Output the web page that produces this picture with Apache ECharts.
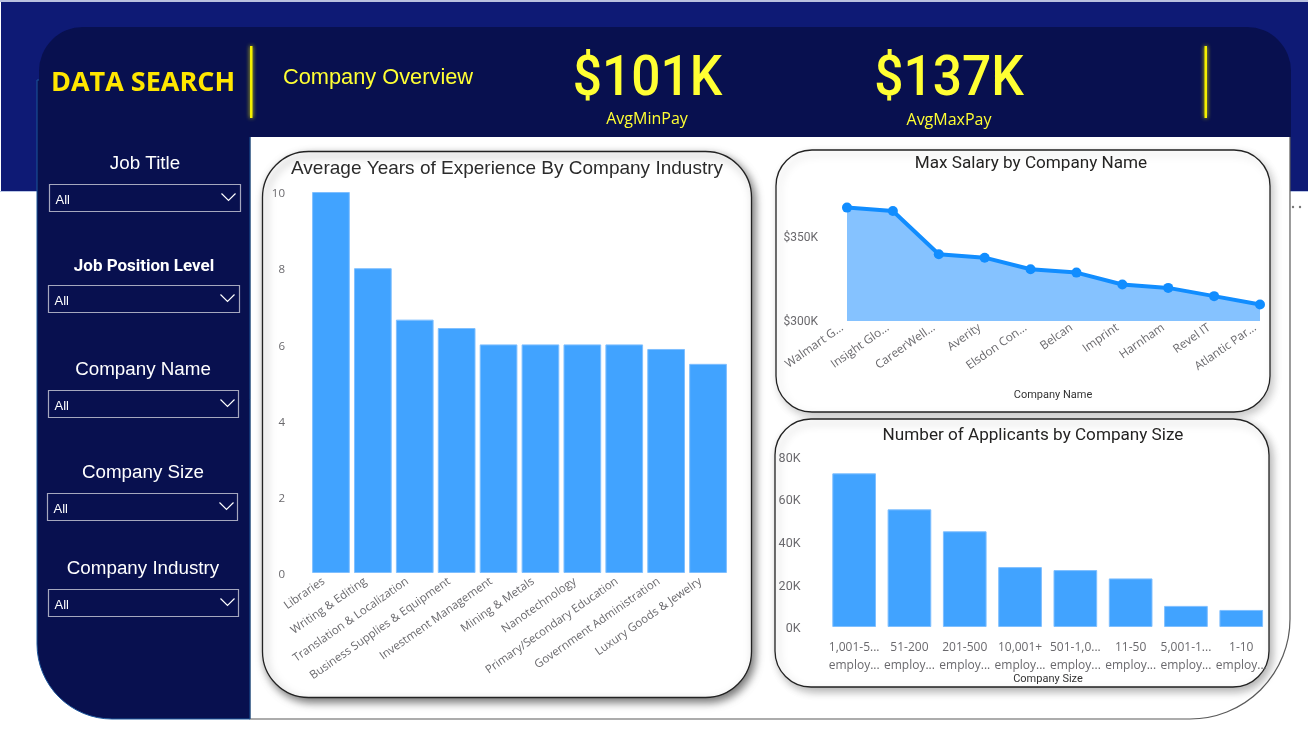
<!DOCTYPE html>
<html>
<head>
<meta charset="utf-8">
<style>html,body{margin:0;padding:0;background:#fff}#c{width:1308px;height:731px}</style>
<script src="https://cdn.jsdelivr.net/npm/echarts@6/dist/echarts.min.js"></script>
</head>
<body>
<div id="c"></div>
<script>
const industryNames = ['Libraries','Writing & Editing','Translation & Localization','Business Supplies & Equipment','Investment Management','Mining & Metals','Nanotechnology','Primary/Secondary Education','Government Administration','Luxury Goods & Jewelry'];
const industryYears = [10,8,6.65,6.43,6,6,6,6,5.88,5.49];
const companyNames = ['Walmart G...','Insight Glo...','CareerWell...','Averity','Elsdon Con...','Belcan','Imprint','Harnham','Revel IT','Atlantic Par...'];
const companyMaxSalaryK = [367.5,365.5,339.7,337.7,330.8,328.8,321.7,319.7,314.8,309.8];
const sizeNames = ['1,001-5...\nemploy...','51-200\nemploy...','201-500\nemploy...','10,001+\nemploy...','501-1,0...\nemploy...','11-50\nemploy...','5,001-1...\nemploy...','1-10\nemploy...'];
const sizeApplicantsK = [72.1,55.2,44.9,28.1,26.7,22.8,9.9,8.0];
const slicers = ['Job Title','Job Position Level','Company Name','Company Size','Company Industry'];
const kpis = [['$101K','AvgMinPay'],['$137K','AvgMaxPay']];

const BAND='#0E1A75', DARK='#08104F', YEL='#FFFF33', GREY='#6A696D', BAR='#41A3FF', BARB='#7FBFFF';
const SEG='"Open Sans","Noto Sans",sans-serif', ARIAL='"Liberation Sans",Arial,sans-serif', DIN='Roboto,sans-serif';

function txt(x,y,text,font,size,color,weight,align,sx){
  return {type:'text',x:x,y:y,scaleX:sx||1,silent:true,style:{text:text,fontFamily:font,fontSize:size,fill:color,fontWeight:weight||'normal',textAlign:align||'center',textVerticalAlign:'middle'}};
}
function rect(x,y,w,h,r,fill,extra){
  return {type:'rect',silent:true,shape:{x:x,y:y,width:w,height:h,r:r},style:Object.assign({fill:fill},extra||{})};
}
function card(x,y,w,h,r,sh){
  return rect(x,y,w,h,r,'#fff',{stroke:'#222',lineWidth:1.3,shadowColor:sh,shadowBlur:9,shadowOffsetX:3,shadowOffsetY:4});
}
const slicerBoxes=[
 {x:49.5,y:184.5,w:191,ty:164,tx:145,font:ARIAL,size:18.8,weight:'normal',sx:1},
 {x:48.5,y:285.5,w:191,ty:267,tx:144,font:DIN,size:16,weight:'bold',sx:1.06},
 {x:48.5,y:390.5,w:190,ty:370,tx:143,font:ARIAL,size:18.8,weight:'normal',sx:1},
 {x:47.5,y:493.5,w:190,ty:473,tx:143,font:ARIAL,size:18.8,weight:'normal',sx:1},
 {x:48.5,y:589.5,w:190,ty:569,tx:143,font:ARIAL,size:18.8,weight:'normal',sx:1}
];
const graphics=[
 rect(0,0,1308,2,0,'#B9C1DF'),
 rect(1,2,1307,189,0,BAND),
 rect(0,191,1308,1,0,'#B9C6E6'),
 {type:'circle',silent:true,shape:{cx:1293,cy:207,r:1.2},style:{fill:'#777'}},
 {type:'circle',silent:true,shape:{cx:1300,cy:207,r:1.2},style:{fill:'#777'}},
 rect(250,130,1040,589,[0,0,100,0],'#fff',{stroke:'#5a5a5a',lineWidth:1.2}),
 rect(37,80,213,639,[0,0,0,75],DARK,{stroke:'#1B569B',lineWidth:1}),
 rect(39,27,1252,110,[44,44,0,0],DARK),
 txt(143,83.5,'DATA SEARCH',SEG,27,'#FFE600','bold'),
 txt(378,78,'Company Overview',ARIAL,21.8,YEL),
 txt(647.5,81,kpis[0][0],DIN,56,YEL,'500','center',0.92),
 txt(949,81,kpis[1][0],DIN,56,YEL,'500','center',0.92),
 txt(647,119,kpis[0][1],SEG,16,YEL),
 txt(949,120,kpis[1][1],SEG,16,YEL),
 rect(250,46,2.5,72,0,'#F4F000',{shadowColor:'#E8E800',shadowBlur:4}),
 rect(1204.5,46,2.5,72,0,'#F4F000',{shadowColor:'#E8E800',shadowBlur:4}),
 card(262.5,151.5,489,546,46,'rgba(0,0,0,0.55)'),
 card(776,150,494,262,36,'rgba(0,0,0,0.22)'),
 card(775,419,494,268,36,'rgba(0,0,0,0.3)'),
 txt(507,169,'Average Years of Experience By Company Industry',ARIAL,19,'#2b2b2b'),
 txt(1031,164,'Max Salary by Company Name',DIN,16,'#252423','normal','center',1.07),
 txt(1033,436,'Number of Applicants by Company Size',DIN,16,'#252423','normal','center',1.07),
 txt(1053,395.5,'Company Name',DIN,10,'#333','normal','center',1.1),
 txt(1048,679,'Company Size',DIN,10,'#333','normal','center',1.1)
];
slicers.forEach(function(name,i){
  const b=slicerBoxes[i];
  graphics.push(txt(b.tx,b.ty,name,b.font,b.size,'#fff',b.weight,'center',b.sx));
  graphics.push(rect(b.x,b.y,b.w,27,0,'transparent',{stroke:'#A5A7BE',lineWidth:1.2}));
  graphics.push(txt(b.x+6,b.y+15.5,'All',ARIAL,13,'#fff','normal','left'));
  graphics.push({type:'polyline',silent:true,shape:{points:[[b.x+172,b.y+9],[b.x+179,b.y+16],[b.x+186,b.y+9]]},style:{fill:'none',stroke:'#fff',lineWidth:1.2}});
});

function catAxis(idx,data,rot,size,margin,lh,gap,pad){
  return {type:'category',gridIndex:idx,data:data,boundaryGap:gap,axisLine:{show:false},axisTick:{show:false},
    axisLabel:{interval:0,rotate:rot,fontFamily:SEG,fontSize:size,color:GREY,margin:margin,lineHeight:lh,padding:pad,hideOverlap:false}};
}
function valAxis(idx,min,max,interval,fmt,margin,font,size,lh){
  return {type:'value',gridIndex:idx,min:min,max:max,interval:interval,splitLine:{show:false},axisLine:{show:false},axisTick:{show:false},
    axisLabel:{formatter:fmt,margin:margin,color:GREY,fontFamily:font,fontSize:size,verticalAlign:'top',lineHeight:lh,showMaxLabel:max%interval===0}};
}
const barStyle={color:BAR,borderColor:BARB,borderWidth:1};
const option={
  animation:false,
  graphic:{elements:graphics},
  grid:[
    {left:310,top:192,width:419,height:381},
    {left:847,top:203.4,width:413,height:117.6},
    {left:826.5,top:456.5,width:442.4,height:170.5}
  ],
  xAxis:[
    catAxis(0,industryNames,35,11.5,2,14,true,[0,9,0,0]),
    catAxis(1,companyNames,35,11.8,2,14,false,[0,6,0,0]),
    catAxis(2,sizeNames,0,12,12,18,true,0)
  ],
  yAxis:[
    valAxis(0,0,10,2,'{value}',25,SEG,11.5,4),
    valAxis(1,300,370,50,'${value}K',29,DIN,12,2),
    valAxis(2,0,80,20,'{value}K',26,DIN,12.5,4)
  ],
  series:[
    {type:'bar',xAxisIndex:0,yAxisIndex:0,data:industryYears,barWidth:'90%',itemStyle:barStyle},
    {type:'line',xAxisIndex:1,yAxisIndex:1,data:companyMaxSalaryK,symbol:'circle',symbolSize:10,showSymbol:true,
      lineStyle:{color:'#118DFF',width:4},itemStyle:{color:'#118DFF'},areaStyle:{color:'#85C2FF',opacity:1}},
    {type:'bar',xAxisIndex:2,yAxisIndex:2,data:sizeApplicantsK,barWidth:'79%',itemStyle:barStyle}
  ]
};
echarts.init(document.getElementById('c'),null,{renderer:'canvas'}).setOption(option);
</script>
</body>
</html>
